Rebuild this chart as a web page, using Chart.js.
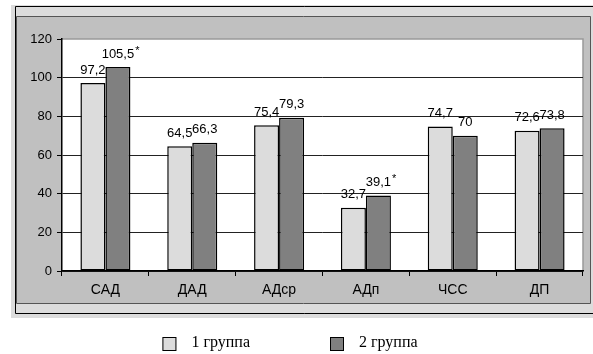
<!DOCTYPE html>
<html>
<head>
<meta charset="utf-8">
<script src="https://cdn.jsdelivr.net/npm/chart.js@4"></script>
<style>
  html, body { margin: 0; padding: 0; background: #fff; }
  #wrap { width: 593px; height: 354px; }
</style>
</head>
<body>
<div id="wrap"><canvas id="chart" width="593" height="354"></canvas></div>
<script>
const categories = ['САД', 'ДАД', 'АДср', 'АДп', 'ЧСС', 'ДП'];
const seriesNames = ['1 группа', '2 группа'];
const group1 = [97.2, 64.5, 75.4, 32.7, 74.7, 72.6];
const group2 = [105.5, 66.3, 79.3, 39.1, 70, 73.8];
const group1Marks = ['', '', '', '', '', ''];
const group2Marks = ['*', '', '', '*', '', ''];
const yTicks = [0, 20, 40, 60, 80, 100, 120];

const sans = "'Liberation Sans', Arial, sans-serif";
const serif = "'Liberation Serif', 'Times New Roman', serif";

// gray frame + white plot area behind the bars
const framePlugin = {
    id: 'frame',
    beforeDraw(chart) {
        const ctx = chart.ctx;
        const a = chart.chartArea;
        ctx.save();
        ctx.fillStyle = '#dcdcdc';
        ctx.fillRect(11, 5, 582, 313);
        ctx.fillStyle = '#c0c0c0';
        ctx.fillRect(16, 16, 575, 287);
        ctx.strokeStyle = '#000';
        ctx.lineWidth = 1;
        ctx.beginPath();
        ctx.moveTo(15.5, 313.5); ctx.lineTo(15.5, 6.5); ctx.lineTo(593, 6.5);
        ctx.moveTo(15.5, 313.5); ctx.lineTo(593, 313.5);
        ctx.stroke();
        ctx.strokeStyle = '#555';
        ctx.beginPath();
        ctx.moveTo(16.5, 303.5); ctx.lineTo(16.5, 16.5); ctx.lineTo(590.5, 16.5);
        ctx.lineTo(590.5, 303.5); ctx.lineTo(16.5, 303.5);
        ctx.stroke();
        ctx.fillStyle = '#fff';
        ctx.fillRect(a.left, a.top, a.right - a.left, a.bottom - a.top);
        ctx.strokeStyle = '#999';
        ctx.lineWidth = 1.5;
        ctx.beginPath();
        ctx.moveTo(a.left, a.top); ctx.lineTo(a.right, a.top); ctx.lineTo(a.right, a.bottom);
        ctx.stroke();
        ctx.restore();
    }
};

// value labels above the bars, comma decimals and superscript star
const valueLabels = {
    id: 'valueLabels',
    afterDatasetsDraw(chart) {
        const ctx = chart.ctx;
        const marks = [group1Marks, group2Marks];
        ctx.save();
        ctx.fillStyle = '#000';
        ctx.textBaseline = 'middle';
        chart.data.datasets.forEach((ds, di) => {
            chart.getDatasetMeta(di).data.forEach((bar, i) => {
                const txt = String(ds.data[i]).replace('.', ',');
                ctx.font = '13px ' + sans;
                const w = ctx.measureText(txt).width;
                const x = bar.x - w / 2;
                const y = bar.y - 13;
                ctx.textAlign = 'left';
                ctx.fillText(txt, x, y);
                if (marks[di][i]) {
                    ctx.font = '11px ' + sans;
                    ctx.fillText(marks[di][i], x + w + 1, y - 3);
                }
            });
        });
        ctx.restore();
    }
};

// legend under the frame
const legendPlugin = {
    id: 'bottomLegend',
    afterDraw(chart) {
        const ctx = chart.ctx;
        ctx.save();
        ctx.font = '16px ' + serif;
        const box = 14, gap = 15, between = 80;
        const widths = chart.data.datasets.map(ds => box + gap + ctx.measureText(ds.label).width);
        const total = widths.reduce((s, w) => s + w, 0) + between * (widths.length - 1);
        let x = 290 - total / 2;
        const y = 344;
        chart.data.datasets.forEach((ds, i) => {
            ctx.fillStyle = ds.backgroundColor;
            ctx.fillRect(x, y - 7, box, box);
            ctx.strokeStyle = '#000';
            ctx.lineWidth = 1;
            ctx.strokeRect(x + 0.5, y - 6.5, box - 1, box - 1);
            ctx.fillStyle = '#000';
            ctx.textBaseline = 'middle';
            ctx.fillText(ds.label, x + box + gap, y - 1);
            x += widths[i] + between;
        });
        ctx.restore();
    }
};

new Chart(document.getElementById('chart'), {
    type: 'bar',
    plugins: [framePlugin, valueLabels, legendPlugin],
    data: {
        labels: categories,
        datasets: [{
            label: seriesNames[0],
            data: group1,
            backgroundColor: '#dcdcdc',
            borderColor: '#000',
            borderWidth: 1.5,
            borderSkipped: false
        }, {
            label: seriesNames[1],
            data: group2,
            backgroundColor: '#808080',
            borderColor: '#000',
            borderWidth: 1.5,
            borderSkipped: false
        }]
    },
    options: {
        responsive: false,
        animation: false,
        events: [],
        categoryPercentage: 0.576,
        barPercentage: 1,
        layout: { padding: { left: 10, top: 39, right: 10, bottom: 53 } },
        plugins: {
            legend: { display: false },
            tooltip: { enabled: false }
        },
        scales: {
            x: {
                afterFit: s => { s.height = 30; },
                border: { color: '#000', width: 1.5 },
                grid: { drawOnChartArea: false, color: '#000', tickLength: 5 },
                ticks: { color: '#000', font: { family: sans, size: 14 }, padding: 6 }
            },
            y: {
                min: 0,
                max: 120,
                afterFit: s => { s.width = 52; },
                afterBuildTicks: s => { s.ticks = yTicks.map(v => ({ value: v })); },
                border: { color: '#000', width: 1.5 },
                grid: {
                    color: c => c.tick.value === 120 ? 'rgba(0,0,0,0)' : '#222',
                    lineWidth: 1,
                    tickLength: 5,
                    tickColor: '#000'
                },
                ticks: { color: '#000', font: { family: sans, size: 13 }, padding: 5 }
            }
        }
    }
});
</script>
</body>
</html>
